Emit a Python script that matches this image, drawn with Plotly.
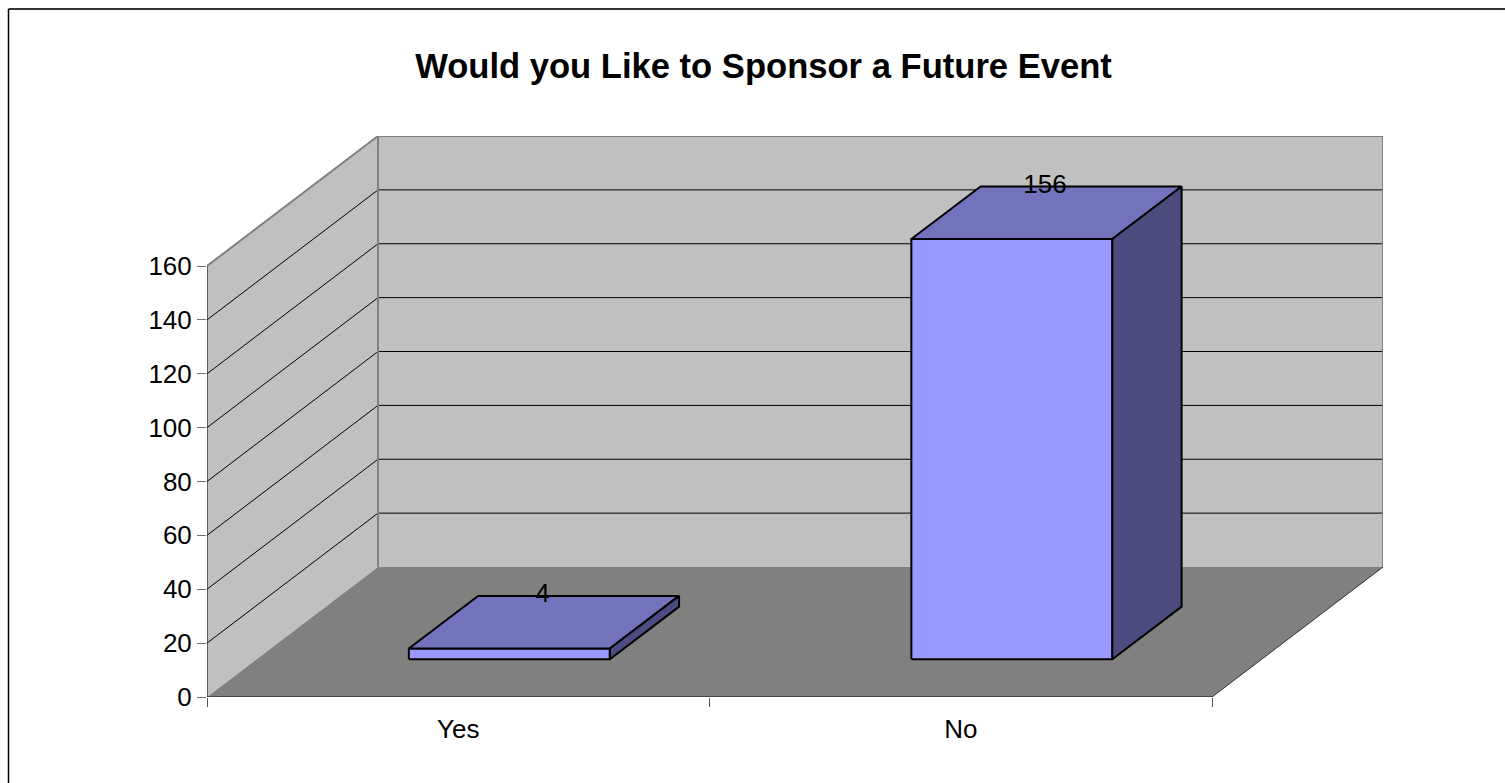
import plotly.graph_objects as go

# ---- data ----
categories = ["Yes", "No"]
values = [4, 156]
y_ticks = [0, 20, 40, 60, 80, 100, 120, 140, 160]
title_text = "Would you Like to Sponsor a Future Event"

# ---- oblique 3D look: wall depth expressed in axis units ----
W, H = 1505, 783
PLOT_L, PLOT_R, PLOT_T, PLOT_B = 207, 1383, 136, 697
CAT_PX = 502.5
VAL_PX = 431 / 160
DEPTH_X = 171 / CAT_PX
DEPTH_Y = 130 / VAL_PX
BAR_LO, BAR_HI = 0.303, 0.703
DEPTH_LO, DEPTH_HI = 0.29, 0.695
n = len(categories)
y_max = y_ticks[-1]


def proj(cat, val, depth):
    return cat + depth * DEPTH_X, val + depth * DEPTH_Y


def poly(points, fill, line=None, width=0, closed=True):
    pts = [proj(*p) if p is not None else (None, None) for p in points]
    if closed:
        pts.append(pts[0])
    return go.Scatter(
        x=[p[0] for p in pts], y=[p[1] for p in pts],
        mode="lines", fill="toself" if fill else "none", fillcolor=fill,
        line=dict(color=line or "rgba(0,0,0,0)", width=width),
        cliponaxis=False, hoverinfo="skip", showlegend=False,
    )


def path(points, color, width):
    return poly(points, None, color, width, closed=False)


traces = [
    poly([(0, 0, 1), (n, 0, 1), (n, y_max, 1), (0, y_max, 1)], "#C0C0C0"),
    poly([(0, 0, 0), (0, 0, 1), (0, y_max, 1), (0, y_max, 0)], "#C0C0C0"),
    poly([(0, 0, 0), (n, 0, 0), (n, 0, 1), (0, 0, 1)], "#808080"),
]

grid = []
for v in y_ticks[1:-1]:
    grid += [(0, v, 0), (0, v, 1), (n, v, 1), None]
traces.append(path(grid, "#000000", 1))
traces.append(path([(0, y_max, 0), (0, y_max, 1), (n, y_max, 1), (n, 0, 1)], "#808080", 2))
traces.append(path([(0, 0, 1), (0, y_max, 1)], "#808080", 2))
traces.append(path([(n, 0, 0), (n, 0, 1)], "#333333", 1))
traces.append(path([(0, 0, 0), (n, 0, 0)], "#333333", 1.5))
traces.append(path([(0, 0, 0), (0, y_max, 0)], "#000000", 1))

for i, v in enumerate(values):
    a, b = i + BAR_LO, i + BAR_HI
    traces.append(poly([(a, 0, DEPTH_LO), (b, 0, DEPTH_LO), (b, v, DEPTH_LO), (a, v, DEPTH_LO)],
                       "#9999FF", "#000000", 2))
    traces.append(poly([(a, v, DEPTH_LO), (b, v, DEPTH_LO), (b, v, DEPTH_HI), (a, v, DEPTH_HI)],
                       "#7373BD", "#000000", 2))
    traces.append(poly([(b, 0, DEPTH_LO), (b, 0, DEPTH_HI), (b, v, DEPTH_HI), (b, v, DEPTH_LO)],
                       "#4C4C80", "#000000", 2))

lx, ly = [], []
for i, v in enumerate(values):
    lx.append(proj(i + 0.5, v, (DEPTH_LO + DEPTH_HI) / 2)[0])
    ly.append(proj(i + 0.5, v, DEPTH_HI)[1])
traces.append(go.Scatter(x=lx, y=ly, text=[str(v) for v in values], mode="text",
                         textposition="middle center", cliponaxis=False,
                         textfont=dict(family="Liberation Sans", size=26, color="#000000"),
                         hoverinfo="skip", showlegend=False))

px_w = PLOT_R - PLOT_L
px_h = PLOT_B - PLOT_T
border_x = (8.5 - PLOT_L) / px_w
border_y = (PLOT_B - 9) / px_h

fig = go.Figure(traces)
fig.update_layout(
    width=W, height=H, autosize=False,
    margin=dict(l=PLOT_L, r=W - PLOT_R, t=PLOT_T, b=H - PLOT_B, pad=0),
    paper_bgcolor="#FFFFFF", plot_bgcolor="rgba(0,0,0,0)",
    font=dict(family="Liberation Sans", size=26, color="#000000"),
    title=dict(text="<b>" + title_text + "</b>", x=763.5 / W, xanchor="center",
               y=1 - 66 / H, yanchor="middle", xref="container", yref="container",
               font=dict(family="Liberation Sans", size=34.6, color="#000000")),
    xaxis=dict(range=[0, n + DEPTH_X], tickmode="array", tickvals=[i + 0.5 for i in range(n)],
               ticktext=categories, ticks="outside", ticklen=9, tickcolor="rgba(0,0,0,0)",
               showgrid=False, zeroline=False, showline=False, fixedrange=True,
               minor=dict(tickmode="array", tickvals=list(range(n + 1)), ticks="outside",
                          ticklen=9, tickcolor="#555555", tickwidth=1, showgrid=False)),
    yaxis=dict(range=[0, y_max + DEPTH_Y], tickmode="array", tickvals=y_ticks,
               ticktext=[str(t) for t in y_ticks], ticks="outside", ticklen=9,
               tickcolor="#707070", tickwidth=1, showgrid=False, zeroline=False,
               showline=False, fixedrange=True),
    shapes=[
        dict(type="line", xref="paper", yref="paper", x0=border_x,
             x1=(W - PLOT_L) / px_w, y0=border_y, y1=border_y,
             line=dict(color="#333333", width=2)),
        dict(type="line", xref="paper", yref="paper", x0=border_x,
             x1=border_x, y0=border_y, y1=(PLOT_B - H) / px_h,
             line=dict(color="#000000", width=1.5)),
    ],
)
fig.write_html("out.html", config={"displayModeBar": False},
               post_script="document.body.style.margin='0';document.body.style.overflow='hidden';")
